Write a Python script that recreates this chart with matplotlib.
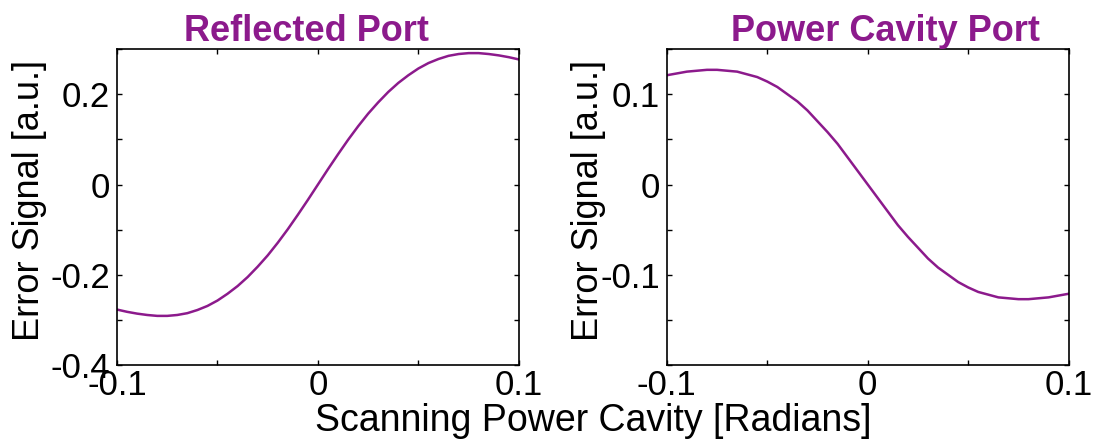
import matplotlib
matplotlib.use("Agg")
import matplotlib.pyplot as plt
import numpy as np

plt.rcParams['font.family'] = ['Liberation Sans', 'DejaVu Sans']
plt.rcParams['axes.unicode_minus'] = False

# scan of the power cavity detuning (radians)
detuning = [-0.100, -0.095, -0.090, -0.085, -0.080, -0.075, -0.070, -0.065, -0.060, -0.055,
            -0.050, -0.045, -0.040, -0.035, -0.030, -0.025, -0.020, -0.015, -0.010, -0.005,
            0.000, 0.005, 0.010, 0.015, 0.020, 0.025, 0.030, 0.035, 0.040, 0.045,
            0.050, 0.055, 0.060, 0.065, 0.070, 0.075, 0.080, 0.085, 0.090, 0.095, 0.100]

# error signal at the reflected port
refl_err = [-0.277, -0.282, -0.286, -0.289, -0.291, -0.291, -0.289, -0.285, -0.278, -0.269,
            -0.257, -0.242, -0.225, -0.205, -0.182, -0.157, -0.129, -0.099, -0.067, -0.034,
            0.000, 0.034, 0.067, 0.099, 0.129, 0.157, 0.182, 0.205, 0.225, 0.242,
            0.257, 0.269, 0.278, 0.285, 0.289, 0.291, 0.291, 0.289, 0.286, 0.282, 0.277]

# error signal at the power cavity port
pc_err = [0.121, 0.123, 0.125, 0.126, 0.127, 0.127, 0.126, 0.125, 0.122, 0.119,
          0.114, 0.108, 0.100, 0.092, 0.082, 0.070, 0.058, 0.045, 0.030, 0.015,
          0.000, -0.015, -0.030, -0.045, -0.058, -0.070, -0.082, -0.092, -0.100, -0.108,
          -0.114, -0.119, -0.122, -0.125, -0.126, -0.127, -0.127, -0.126, -0.125, -0.123, -0.121]

x_ticks = [-0.1, -0.05, 0, 0.05, 0.1]
x_ticklabels = ['-0.1', '', '0', '', '0.1']
refl_yticks = [-0.4, -0.3, -0.2, -0.1, 0, 0.1, 0.2, 0.3]
refl_yticklabels = ['-0.4', '', '-0.2', '', '0', '', '0.2', '']
pc_yticks = [-0.2, -0.15, -0.1, -0.05, 0, 0.05, 0.1, 0.15]
pc_yticklabels = ['', '', '-0.1', '', '0', '', '0.1', '']

purple = '#8C1A8C'

fig = plt.figure(figsize=(11.04, 4.42), dpi=100)
ax1 = fig.add_axes([0.106, 0.174, 0.364, 0.715])
ax2 = fig.add_axes([0.604, 0.174, 0.364, 0.715])

panels = [
    (ax1, refl_err, 'Reflected Port', (-0.4, 0.3), refl_yticks, refl_yticklabels, 0.471, -0.217),
    (ax2, pc_err, 'Power Cavity Port', (-0.2, 0.15), pc_yticks, pc_yticklabels, 0.545, -0.194),
]

for ax, err, titel, ylim, yt, ytl, tx, lx in panels:
    ax.plot(detuning, err, color=purple, linewidth=1.8)
    ax.set_xlim(-0.1, 0.1)
    ax.set_ylim(*ylim)
    ax.set_xticks(x_ticks)
    ax.set_xticklabels(x_ticklabels)
    ax.set_yticks(yt)
    ax.set_yticklabels(ytl)
    ax.tick_params(direction='in', top=True, right=True, length=3.5, width=1,
                   labelsize=25, pad=5)
    ax.tick_params(axis='x', pad=3)
    for s in ax.spines.values():
        s.set_linewidth(1.2)
    ax.set_title(titel, color=purple, fontsize=26, fontweight='bold', x=tx, pad=6)
    ax.set_ylabel('Error Signal [a.u.]', fontsize=26, va='center')
    ax.yaxis.set_label_coords(lx, 0.52)

fig.text(0.537, 0.025, 'Scanning Power Cavity [Radians]', fontsize=27,
         ha='center', va='baseline')

fig.savefig('out.png', dpi=100)
